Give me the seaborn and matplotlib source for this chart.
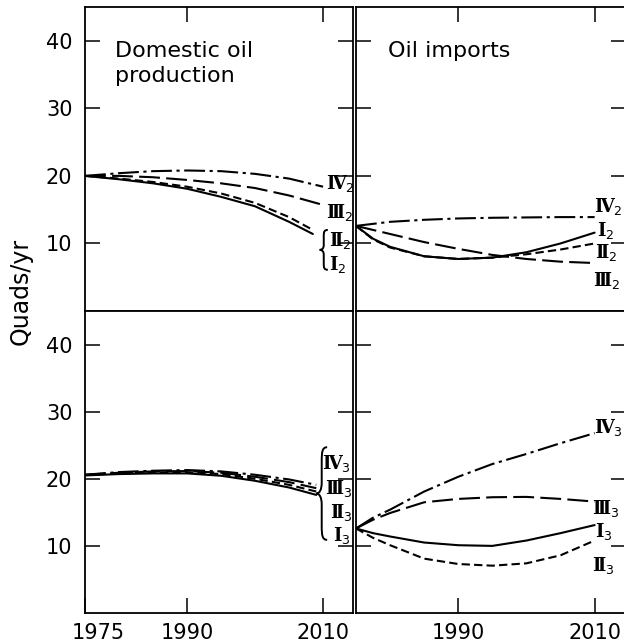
import numpy as np
import pandas as pd
import matplotlib
matplotlib.use("Agg")
import matplotlib.pyplot as plt
import seaborn as sns
from matplotlib.path import Path
from matplotlib.patches import PathPatch
from matplotlib.transforms import Affine2D, ScaledTranslation

# ---------------- data ----------------
scenarios = ["I", "II", "III", "IV"]

# Domestic oil production, phase 2 (top-left)
dom2_years_hi = [1975, 1980, 1985, 1990, 1995, 2000, 2005, 2010]
dom2_years_lo = [1975, 1980, 1985, 1990, 1995, 2000, 2005, 2008.5]
dom2_I = [20.0, 19.5, 18.9, 18.1, 16.9, 15.5, 13.2, 11.4]
dom2_II = [20.0, 19.6, 19.1, 18.4, 17.4, 16.0, 13.9, 12.0]
dom2_III = [20.0, 20.0, 19.8, 19.4, 18.9, 18.2, 17.1, 15.7]
dom2_IV = [20.0, 20.4, 20.7, 20.8, 20.7, 20.3, 19.6, 18.4]

# Oil imports, phase 2 (top-right)
imp2_years = [1975, 1977.5, 1980, 1985, 1990, 1995, 2000, 2005, 2010]
imp2_I = [12.6, 10.7, 9.5, 8.1, 7.7, 7.9, 8.7, 10.0, 11.6]
imp2_II = [12.6, 10.6, 9.4, 8.1, 7.7, 7.9, 8.4, 9.1, 10.0]
imp2_III = [12.6, 12.0, 11.4, 10.2, 9.2, 8.3, 7.7, 7.3, 7.1]
imp2_IV = [12.6, 12.9, 13.2, 13.5, 13.7, 13.8, 13.85, 13.9, 13.9]

# Domestic oil production, phase 3 (bottom-left)
dom3_years = [1975, 1980, 1985, 1990, 1995, 2000, 2005, 2009]
dom3_I = [20.5, 20.7, 20.8, 20.8, 20.45, 19.7, 18.7, 17.6]
dom3_II = [20.55, 20.8, 20.95, 21.0, 20.7, 20.0, 19.1, 18.1]
dom3_III = [20.6, 20.9, 21.1, 21.15, 20.9, 20.3, 19.5, 18.6]
dom3_IV = [20.6, 21.0, 21.2, 21.3, 21.1, 20.6, 19.9, 19.1]

# Oil imports, phase 3 (bottom-right)
imp3_years = [1975, 1977.5, 1980, 1985, 1990, 1995, 2000, 2005, 2010]
imp3_I = [12.6, 11.9, 11.4, 10.5, 10.1, 10.0, 10.8, 11.9, 13.1]
imp3_II = [12.6, 11.2, 10.1, 8.1, 7.3, 7.05, 7.4, 8.6, 10.8]
imp3_III = [12.6, 13.9, 14.9, 16.5, 17.0, 17.25, 17.3, 17.0, 16.6]
imp3_IV = [12.6, 14.2, 15.4, 18.1, 20.3, 22.2, 23.7, 25.3, 26.8]

y_ticks = [10, 20, 30, 40]
x_ticks_left = [1975, 1990, 2010]
x_ticks_right = [1990, 2010]
titles = ["Domestic oil\nproduction", "Oil imports"]
y_label = "Quads/yr"
numerals = {"I": "I", "II": "\u2161", "III": "\u2162", "IV": "\u2163"}

# ---------------- style ----------------
sns.set_theme(style="ticks")
plt.rcParams["font.family"] = ["DejaVu Sans"]
for k in ["axes.edgecolor", "text.color", "xtick.color", "ytick.color",
          "axes.labelcolor", "xtick.labelcolor", "ytick.labelcolor"]:
    plt.rcParams[k] = "black"
plt.rcParams["axes.linewidth"] = 1.3

dash_map = {"I": "", "II": (4, 2), "III": (10, 3), "IV": (10, 2.2, 1.5, 2.2)}

W, H = 624, 642
fig = plt.figure(figsize=(W / 100, H / 100), dpi=100)


def ax_at(x0, y0, x1, y1):
    return fig.add_axes([x0 / W, 1 - y1 / H, (x1 - x0) / W, (y1 - y0) / H])


ax_tl = ax_at(85, 7, 353, 311)
ax_tr = ax_at(356, 7, 626, 311)
ax_bl = ax_at(85, 311, 353, 613)
ax_br = ax_at(356, 311, 626, 613)


def make_df(years_list, series):
    rows = []
    for sc, yrs, vals in zip(scenarios, years_list, series):
        for yr, v in zip(yrs, vals):
            rows.append({"year": yr, "value": v, "scenario": sc})
    return pd.DataFrame(rows)


panels = [
    (ax_tl, make_df([dom2_years_lo, dom2_years_lo, dom2_years_hi, dom2_years_hi],
                    [dom2_I, dom2_II, dom2_III, dom2_IV])),
    (ax_tr, make_df([imp2_years] * 4, [imp2_I, imp2_II, imp2_III, imp2_IV])),
    (ax_bl, make_df([dom3_years] * 4, [dom3_I, dom3_II, dom3_III, dom3_IV])),
    (ax_br, make_df([imp3_years] * 4, [imp3_I, imp3_II, imp3_III, imp3_IV])),
]

for ax, df in panels:
    sns.lineplot(data=df, x="year", y="value", style="scenario",
                 style_order=scenarios, dashes=dash_map, color="black",
                 linewidth=1.5, estimator=None, legend=False, ax=ax)
    ax.set_ylim(0, 45)
    ax.set_yticks(y_ticks)
    ax.set_xlabel("")
    ax.set_ylabel("")
    for s in ax.spines.values():
        s.set_visible(True)
        s.set_linewidth(1.3)
        s.set_color("black")

for ax in (ax_tl, ax_bl):
    ax.set_xlim(1975, 2014.4)
for ax in (ax_tr, ax_br):
    ax.set_xlim(1975, 2014.6)

for ax in (ax_tl, ax_tr):
    ax.set_xticks(x_ticks_right)
    ax.tick_params(axis="x", direction="in", length=11, width=1.1,
                   top=True, bottom=False, labelbottom=False)
for ax in (ax_bl, ax_br):
    ax.tick_params(axis="x", direction="in", length=11, width=1.1,
                   top=False, bottom=True, labelbottom=True,
                   labelsize=15, pad=7)
ax_bl.set_xticks(x_ticks_left)
ax_bl.set_xticklabels([str(t) for t in x_ticks_left])
ax_br.set_xticks(x_ticks_right)
ax_br.set_xticklabels([str(t) for t in x_ticks_right])

for ax in (ax_tl, ax_bl):
    ax.tick_params(axis="y", direction="in", length=11, width=1.1,
                   left=True, right=True, labelleft=True, labelsize=15, pad=9)
for ax in (ax_tr, ax_br):
    ax.tick_params(axis="y", direction="in", length=11, width=1.1,
                   left=True, right=True, labelleft=False)

# shift "1975" label slightly right as in the reference
lbl = ax_bl.get_xticklabels()[0]
lbl.set_transform(lbl.get_transform() + ScaledTranslation(0.13, 0, fig.dpi_scale_trans))

# titles
ax_tl.text(0.112, 0.888, titles[0], transform=ax_tl.transAxes, ha="left",
           va="top", fontsize=16, linespacing=1.3)
ax_tr.text(0.119, 0.888, titles[1], transform=ax_tr.transAxes, ha="left",
           va="top", fontsize=16)

fig.text(21 / W, 1 - 291 / H, y_label, rotation=90, ha="center",
         va="center", fontsize=17)

# curve labels
lab_kw = dict(ha="left", va="center", fontsize=13, family="DejaVu Serif",
              fontweight="bold", clip_on=False)


def lab(ax, x, y, sc, phase):
    ax.text(x, y, numerals[sc] + "$_{" + phase + "}$", **lab_kw)


lab(ax_tl, 2010.5, 18.8, "IV", "2")
lab(ax_tl, 2010.5, 14.6, "III", "2")
lab(ax_tl, 2010.8, 10.5, "II", "2")
lab(ax_tl, 2010.8, 6.9, "I", "2")

lab(ax_tr, 2009.9, 15.4, "IV", "2")
lab(ax_tr, 2010.3, 11.85, "I", "2")
lab(ax_tr, 2010.1, 8.6, "II", "2")
lab(ax_tr, 2009.7, 4.45, "III", "2")

lab(ax_bl, 2009.9, 22.3, "IV", "3")
lab(ax_bl, 2010.3, 18.5, "III", "3")
lab(ax_bl, 2011.0, 15.0, "II", "3")
lab(ax_bl, 2011.4, 11.6, "I", "3")

lab(ax_br, 2009.9, 27.7, "IV", "3")
lab(ax_br, 2009.6, 15.5, "III", "3")
lab(ax_br, 2010.1, 12.2, "I", "3")
lab(ax_br, 2009.6, 7.15, "II", "3")

# curly braces grouping labels (drawn as a thin stroked outline)
brace_verts = [(1, 1), (0.55, 1), (0.5, 0.95), (0.5, 0.85),
               (0.5, 0.62),
               (0.5, 0.54), (0.3, 0.5), (0, 0.5),
               (0.3, 0.5), (0.5, 0.46), (0.5, 0.38),
               (0.5, 0.15),
               (0.5, 0.05), (0.55, 0), (1, 0)]
brace_codes = [Path.MOVETO, Path.CURVE4, Path.CURVE4, Path.CURVE4,
               Path.LINETO,
               Path.CURVE4, Path.CURVE4, Path.CURVE4,
               Path.CURVE4, Path.CURVE4, Path.CURVE4,
               Path.LINETO,
               Path.CURVE4, Path.CURVE4, Path.CURVE4]
brace_path = Path(brace_verts, brace_codes)


def brace(ax, xl, xr, yl, yh):
    tr = Affine2D().scale(xr - xl, yh - yl).translate(xl, yl)
    p = PathPatch(tr.transform_path(brace_path), transform=ax.transData,
                  facecolor="none", edgecolor="black", lw=1.4, clip_on=False)
    ax.add_patch(p)


brace(ax_tl, 2009.5, 2010.7, 6.1, 12.0)
brace(ax_bl, 2009.0, 2010.6, 10.9, 24.7)

fig.savefig("out.png", dpi=100)
